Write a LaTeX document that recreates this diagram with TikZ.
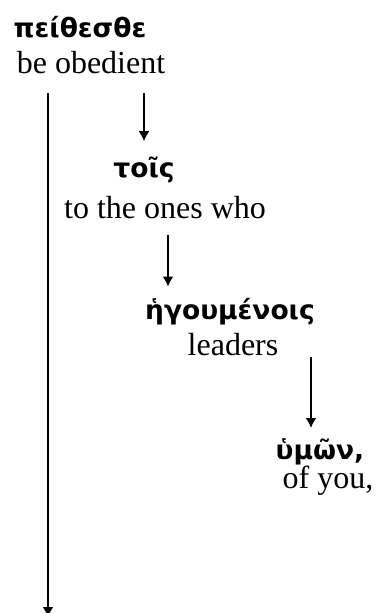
\documentclass[tikz,border=0pt]{standalone}
\usepackage{fontspec}
\setmainfont{Liberation Serif}
\newfontfamily\greekfont{DejaVu Sans}
\usetikzlibrary{arrows.meta}

\begin{document}
\begin{tikzpicture}[x=1pt,y=1pt]
	\tikzstyle{every node}+=[inner sep=0pt,anchor=base]
	\tikzstyle{gk}=[font=\greekfont\bfseries\fontsize{26.5}{30}\selectfont]
	\tikzstyle{en}=[font=\fontsize{32}{38}\selectfont]
	\tikzstyle{arr}=[line width=2pt,-{Latex[length=10pt,width=11pt]}]
	\useasboundingbox (0,0) rectangle (381,-613);
	\draw (80,-37) node[gk] (peith) {πείθεσθε};
	\draw (91,-73) node[en] (obed) {be obedient};
	\draw (144,-177) node[gk] (tois) {τοῖς};
	\draw (165,-218) node[en] (ones) {to the ones who};
	\draw (230,-319) node[gk] (hegou) {ἡγουμένοις};
	\draw (233,-355) node[en] (lead) {leaders};
	\draw (320,-459) node[gk] (hymon) {ὑμῶν,};
	\draw (328,-488) node[en] (you) {of you,};
	\coordinate (main) at (48,-93);
	\coordinate (mainend) at (48,-617);
	\draw [arr] (main) -- (mainend);
	\coordinate (t1) at (144,-93);
	\draw [arr,shorten >=15pt] (t1) -- (t1 |- tois.north);
	\coordinate (t2) at (168,-235);
	\draw [arr,shorten >=11pt] (t2) -- (t2 |- hegou.north);
	\coordinate (t3) at (311,-357);
	\draw [arr,shorten >=10pt] (t3) -- (t3 |- hymon.north);
\end{tikzpicture}
\end{document}
